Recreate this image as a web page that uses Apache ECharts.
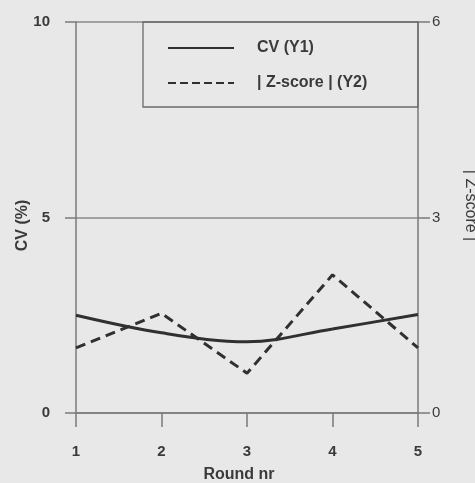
<!DOCTYPE html>
<html>
<head>
<meta charset="utf-8">
<script src="https://cdn.jsdelivr.net/npm/echarts@6/dist/echarts.min.js"></script>
<style>
html,body{margin:0;padding:0;background:#e8e8e8;}
#chart{width:475px;height:483px;}
</style>
</head>
<body>
<div id="chart"></div>
<script>
const rounds = ['1', '2', '3', '4', '5'];
const cvValues = [2.5, 2.05, 1.82, 2.15, 2.52];
const zValues = [1.0, 1.53, 0.61, 2.12, 1.0];
const y1Ticks = { min: 0, max: 10, interval: 5 };
const y2Ticks = { min: 0, max: 6, interval: 3 };
const seriesNames = ['CV (Y1)', '| Z-score | (Y2)'];

const FONT = 'Liberation Sans, Arial, sans-serif';
const TXT = '#3a3a3a';
const AX = '#7a7a7a';

const chart = echarts.init(document.getElementById('chart'), null, { renderer: 'canvas' });
chart.setOption({
  backgroundColor: '#e8e8e8',
  animation: false,
  grid: { left: 76, right: 57, top: 22, bottom: 70, containLabel: false, outerBoundsMode: 'none' },
  graphic: [{
    type: 'rect',
    shape: { x: 143, y: 22, width: 275, height: 85 },
    style: { fill: 'none', stroke: '#6a6a6a', lineWidth: 1.3 },
    z: 5
  }],
  legend: {
    orient: 'vertical',
    left: 167, top: 40,
    padding: 0,
    itemWidth: 66, itemHeight: 14, itemGap: 19,
    itemStyle: { opacity: 0 },
    textStyle: { fontFamily: FONT, fontWeight: 'bold', fontSize: 16, color: TXT, padding: [0, 0, 0, 18] },
    data: [
      { name: seriesNames[0], itemStyle: { opacity: 0 }, lineStyle: { width: 2 } },
      { name: seriesNames[1], itemStyle: { opacity: 0 }, lineStyle: { width: 2, type: [8, 4] } }
    ]
  },
  xAxis: {
    type: 'category',
    data: rounds,
    boundaryGap: false,
    name: 'Round nr',
    nameLocation: 'middle',
    nameGap: 54,
    nameMoveOverlap: false,
    nameTextStyle: { fontFamily: FONT, fontWeight: 'bold', fontSize: 16, color: TXT, padding: [0, 16, 0, 0] },
    axisLine: { lineStyle: { color: AX, width: 1.5 } },
    axisTick: { show: true, inside: false, length: 14, lineStyle: { color: AX, width: 1.5 } },
    axisLabel: { margin: 31, fontFamily: FONT, fontWeight: 'bold', fontSize: 15, color: TXT },
    splitLine: { show: false }
  },
  yAxis: [{
    type: 'value',
    min: y1Ticks.min, max: y1Ticks.max, interval: y1Ticks.interval,
    position: 'left',
    name: 'CV (%)',
    nameLocation: 'middle',
    nameGap: 45,
    nameMoveOverlap: false,
    nameRotate: 90,
    nameTextStyle: { fontFamily: FONT, fontWeight: 'bold', fontSize: 16, color: TXT, padding: [0, 16, 0, 0] },
    axisLine: { show: true, lineStyle: { color: AX, width: 1.5 } },
    axisTick: { show: true, length: 11, lineStyle: { color: AX, width: 1.5 } },
    axisLabel: { margin: 26, fontFamily: FONT, fontWeight: 'bold', fontSize: 15, color: TXT },
    splitLine: { show: true, lineStyle: { color: '#8a8a8a', width: 1.5 } }
  }, {
    type: 'value',
    min: y2Ticks.min, max: y2Ticks.max, interval: y2Ticks.interval,
    position: 'right',
    name: '| Z-score |',
    nameLocation: 'middle',
    nameGap: 44,
    nameMoveOverlap: false,
    nameRotate: -90,
    nameTextStyle: { fontFamily: FONT, fontSize: 16, color: TXT, padding: [0, 24, 0, 0] },
    axisLine: { show: true, lineStyle: { color: AX, width: 1.5 } },
    axisTick: { show: true, length: 12, lineStyle: { color: AX, width: 1.5 } },
    axisLabel: { margin: 14, fontFamily: FONT, fontSize: 15, color: TXT },
    splitLine: { show: false }
  }],
  series: [{
    name: seriesNames[0],
    type: 'line',
    yAxisIndex: 0,
    data: cvValues,
    smooth: 0.35,
    symbol: 'none',
    lineStyle: { color: '#303030', width: 3 },
    itemStyle: { color: '#303030' },
    z: 3
  }, {
    name: seriesNames[1],
    type: 'line',
    yAxisIndex: 1,
    data: zValues,
    symbol: 'none',
    lineStyle: { color: '#303030', width: 3, type: [10, 6] },
    itemStyle: { color: '#303030' },
    z: 3
  }]
});
</script>
</body>
</html>
